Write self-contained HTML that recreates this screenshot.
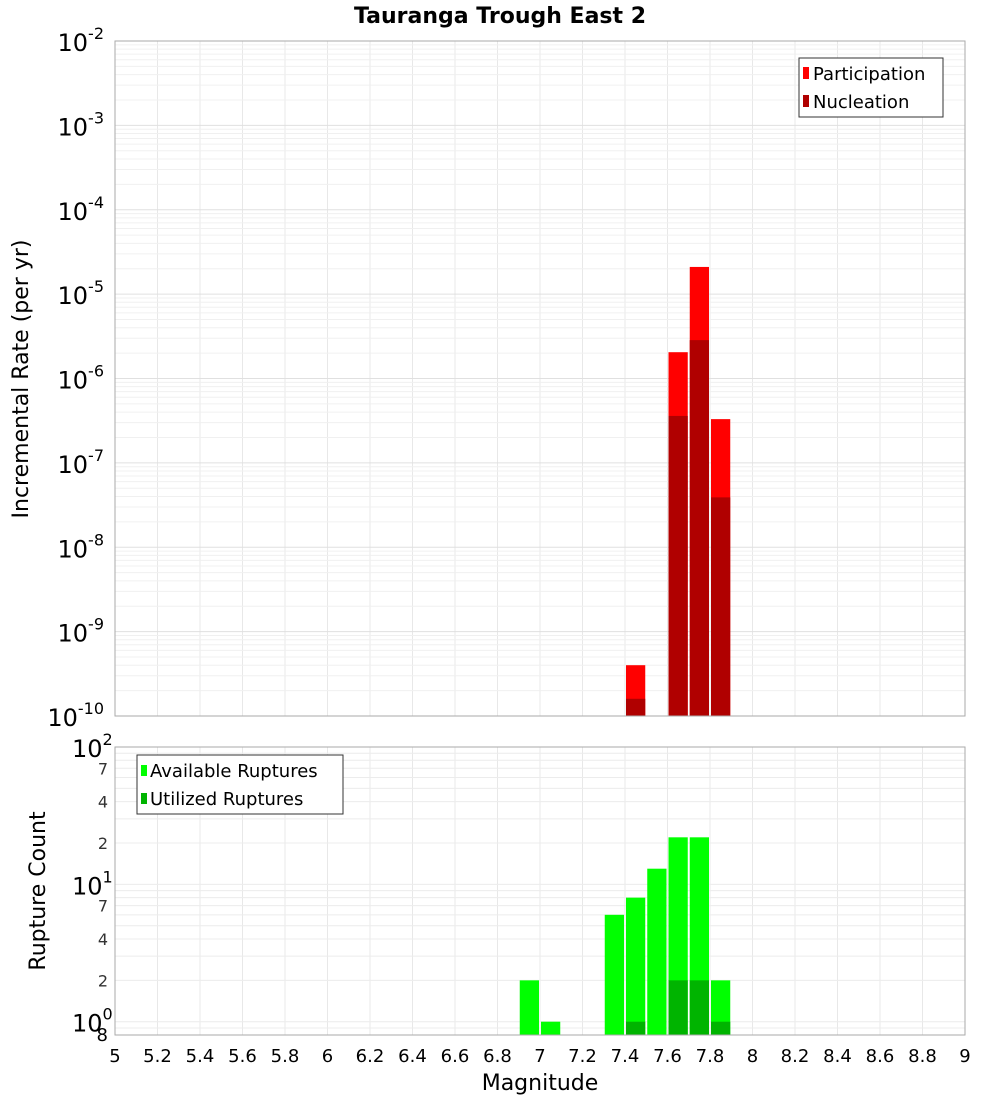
<!DOCTYPE html>
<html><head><meta charset="utf-8"><style>
body{margin:0;background:#fff;}
svg{display:block;font-family:"DejaVu Sans","Liberation Sans",sans-serif;}
</style></head><body>
<svg id="chart" width="1000" height="1100" xmlns="http://www.w3.org/2000/svg">
<text x="500" y="23" text-anchor="middle" font-size="22" font-weight="bold">Tauranga Trough East 2</text>
<g id="grid"></g>
<g id="bars"></g>
<rect x="115" y="41" width="850" height="675" fill="none" stroke="#aaa"/>
<rect x="115" y="747" width="850" height="288" fill="none" stroke="#aaa"/>
<g id="ticks"></g>
<text transform="translate(28,379) rotate(-90)" text-anchor="middle" font-size="22">Incremental Rate (per yr)</text>
<text transform="translate(45,891) rotate(-90)" text-anchor="middle" font-size="22">Rupture Count</text>
<text x="540" y="1090" text-anchor="middle" font-size="22">Magnitude</text>
<g>
<rect x="799" y="58" width="144" height="59" fill="#fff" stroke="#333"/>
<rect x="803" y="67" width="6" height="12" fill="#ff0000"/>
<text x="813" y="80" font-size="18">Participation</text>
<rect x="803" y="95" width="6" height="12" fill="#b00000"/>
<text x="813" y="108" font-size="18">Nucleation</text>
</g>
<g>
<rect x="137" y="755" width="206" height="59" fill="#fff" stroke="#333"/>
<rect x="141" y="765" width="6" height="11" fill="#00ff00"/>
<text x="150" y="777" font-size="18">Available Ruptures</text>
<rect x="141" y="793" width="6" height="11" fill="#00b400"/>
<text x="150" y="805" font-size="18">Utilized Ruptures</text>
</g>
</svg>
<script>
const mags=[6.95,7.05,7.35,7.45,7.55,7.65,7.75,7.85];
const participation=[0,0,0,4e-10,0,2.05e-6,2.1e-5,3.3e-7];
const nucleation=[0,0,0,1.6e-10,0,3.6e-7,2.85e-6,3.9e-8];
const available=[2,1,6,8,13,22,22,2];
const utilized=[0,0,0,1,0,2,2,1];
const xTicks=[5,5.2,5.4,5.6,5.8,6,6.2,6.4,6.6,6.8,7,7.2,7.4,7.6,7.8,8,8.2,8.4,8.6,8.8,9];
const topExps=[-2,-3,-4,-5,-6,-7,-8,-9,-10];
const botMinor=[2,4,7,20,40,70];
const NS="http://www.w3.org/2000/svg";
const X=m=>115+(m-5)*212.5;
const YT=v=>41+(-2-Math.log10(v))*84.375;
const YB=v=>747+(2-Math.log10(v))*(288/(2-Math.log10(0.8)));
function mk(p,tag,a){const e=document.createElementNS(NS,tag);for(const k in a)e.setAttribute(k,a[k]);document.getElementById(p).appendChild(e);return e;}
// grid
for(const t of xTicks){const l=mk('grid','line',{x1:X(t),x2:X(t),y1:41,y2:716,stroke:'#e8e8e8'});
const l2=mk('grid','line',{x1:X(t),x2:X(t),y1:747,y2:1035,stroke:'#e8e8e8'});}
for(let e=-10;e<-2;e++)for(let k=1;k<10;k++){const y=YT(k*Math.pow(10,e));const l=mk('grid','line',{x1:115,x2:965,y1:y,y2:y,stroke:k==1?'#e0e0e0':'#f0f0f0'});}
for(const v of [0.8,0.9,1,2,3,4,5,6,7,8,9,10,20,30,40,50,60,70,80,90]){const y=YB(v);const l=mk('grid','line',{x1:115,x2:965,y1:y,y2:y,stroke:'#ececec'});}
// bars
const w=212.5*0.1;
mags.forEach((m,i)=>{
 const x0=X(m)-w/2+1,bw=w-2;
 if(participation[i]>0){const r=mk('bars','rect',{x:x0,y:YT(participation[i]),width:bw,height:716-YT(participation[i]),fill:'#ff0000'});}
 if(nucleation[i]>0){const r=mk('bars','rect',{x:x0,y:YT(nucleation[i]),width:bw,height:716-YT(nucleation[i]),fill:'#b00000'});}
 if(available[i]>0){const r=mk('bars','rect',{x:x0,y:YB(available[i]),width:bw,height:1035-YB(available[i]),fill:'#00ff00'});}
 if(utilized[i]>0){const r=mk('bars','rect',{x:x0,y:YB(utilized[i]),width:bw,height:1035-YB(utilized[i]),fill:'#00b400'});}
});
// ticks
for(const t of xTicks){const tx=mk('ticks','text',{x:X(t),y:1062,'text-anchor':'middle','font-size':18});tx.textContent=String(t);}
for(const e of topExps){const y=YT(Math.pow(10,e));const tx=mk('ticks','text',{x:104,y:y+10,'text-anchor':'end','font-size':24});
 tx.innerHTML='10<tspan dy="-12" font-size="16">'+e+'</tspan>';}
for(const [v,l] of [[100,'2'],[10,'1'],[1,'0']]){const y=YB(v);const tx=mk('ticks','text',{x:72,y:y+10,'font-size':24});tx.innerHTML='10<tspan dy="-12" font-size="16">'+l+'</tspan>';}
for(const v of botMinor){const y=YB(v);const tx=mk('ticks','text',{x:108,y:y+6,'text-anchor':'end','font-size':16,fill:'#333'});tx.textContent=String(v).slice(0,1);}
{const tx=mk('ticks','text',{x:108,y:1041,'text-anchor':'end','font-size':18});tx.textContent='8';}
</script>
</body></html>
